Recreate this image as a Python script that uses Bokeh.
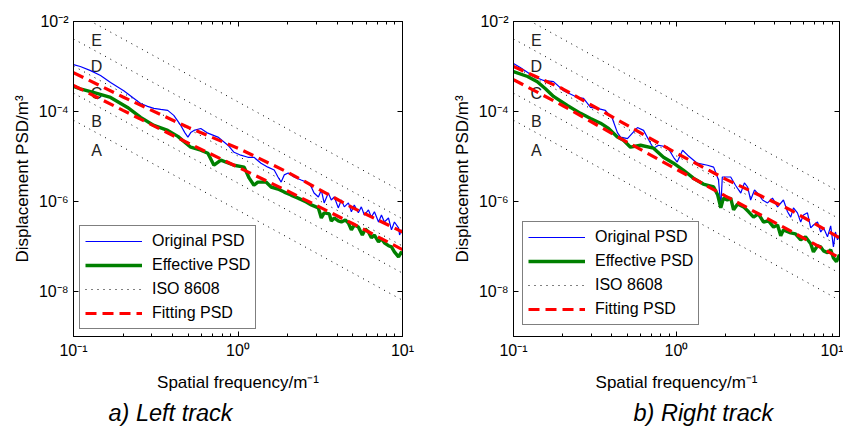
from bokeh.plotting import figure
from bokeh.layouts import row
from bokeh.models import (FixedTicker, LogAxis, CustomJSTickFormatter, Legend,
                          LegendItem, Title, Range1d)
from bokeh.core.properties import value
from bokeh.embed import file_html
from bokeh.resources import INLINE

FONT = "Liberation Sans"

# ---------------- data ----------------
x_major_ticks = [0.1, 1, 10]
x_minor_ticks = [0.2, 0.3, 0.4, 0.5, 0.6, 0.7, 0.8, 0.9, 2, 3, 4, 5, 6, 7, 8, 9]
y_major_ticks = [1e-8, 1e-6, 1e-4, 1e-2]

legend_labels = ["Original PSD", "Effective PSD", "ISO 8608", "Fitting PSD"]
panel_titles = ["a) Left track", "b) Right track"]

# ISO 8608 class lines (values at 0.1 and at 10 m^-1)
iso_freq = [0.1, 10]
iso_psd_at_start = [6.4e-5, 2.56e-4, 1.024e-3, 4.096e-3, 1.6384e-2]
iso_psd_at_end = [6.4e-9, 2.56e-8, 1.024e-7, 4.096e-7, 1.6384e-6]
iso_classes = ["A", "B", "C", "D", "E"]
iso_label_freq = 0.138
iso_label_psd = [1.38e-5, 6.0e-5, 2.51e-4, 9.95e-4, 3.74e-3]

# Left track
left_orig_freq = [0.100, 0.110, 0.127, 0.146, 0.168, 0.202, 0.229, 0.256, 0.282, 0.308, 0.339,
                  0.374, 0.407, 0.449, 0.475, 0.496, 0.516, 0.540, 0.594, 0.656, 0.755, 0.869,
                  0.946, 1.04, 1.15, 1.25, 1.38, 1.52, 1.66, 1.75, 1.83, 1.91, 2.02, 2.19, 2.42,
                  2.67, 2.79, 2.90, 3.08, 3.21, 3.34, 3.54, 3.69, 3.85, 4.07, 4.25, 4.43, 4.69,
                  4.89, 5.09, 5.39, 5.62, 5.86, 6.21, 6.47, 6.75, 7.15, 7.45, 7.76, 8.22, 8.57,
                  8.93, 9.46, 9.60, 9.86, 10.0]
left_orig_psd = [1.10e-3, 1.0e-3, 8.1e-4, 6.3e-4, 4.4e-4, 2.9e-4, 2.05e-4, 1.51e-4, 1.30e-4,
                 1.17e-4, 1.11e-4, 1.06e-4, 8.2e-5, 4.9e-5, 3.4e-5, 2.7e-5, 3.4e-5, 3.8e-5,
                 4.2e-5, 3.3e-5, 2.7e-5, 1.78e-5, 1.24e-5, 1.07e-5, 9.6e-6, 9.6e-6, 7.1e-6,
                 5.8e-6, 5.0e-6, 3.5e-6, 2.7e-6, 3.9e-6, 4.3e-6, 3.5e-6, 3.0e-6, 2.6e-6, 2.1e-6,
                 1.54e-6, 1.26e-6, 1.8e-6, 9.3e-7, 1.54e-6, 1.08e-6, 1.26e-6, 7.2e-7, 1.08e-6,
                 7.6e-7, 9.3e-7, 5.9e-7, 8.4e-7, 5.6e-7, 7.6e-7, 5.0e-7, 6.5e-7, 4.5e-7, 5.9e-7,
                 3.5e-7, 5.0e-7, 3.5e-7, 4.3e-7, 2.34e-7, 3.5e-7, 2.6e-7, 1.8e-7, 2.34e-7, 2.1e-7]
left_eff_freq = [0.100, 0.110, 0.132, 0.168, 0.213, 0.256, 0.308, 0.374, 0.431, 0.516, 0.594,
                 0.656, 0.714, 0.787, 0.946, 1.09, 1.17, 1.25, 1.32, 1.48, 1.59, 1.75, 1.91,
                 2.10, 2.32, 2.60, 2.79, 3.08, 3.21, 3.34, 3.59, 3.69, 3.85, 4.07, 4.25, 4.49,
                 4.69, 4.89, 5.09, 5.39, 5.70, 5.94, 6.21, 6.47, 6.75, 7.15, 7.45, 7.76, 8.22,
                 8.57, 8.93, 9.46, 9.86, 10.0]
left_eff_psd = [3.6e-4, 3.2e-4, 2.65e-4, 2.05e-4, 1.23e-4, 7.4e-5, 4.9e-5, 3.8e-5, 2.8e-5,
                1.61e-5, 1.38e-5, 1.18e-5, 6.4e-6, 8.3e-6, 6.4e-6, 5.8e-6, 3.3e-6, 2.3e-6,
                2.7e-6, 2.7e-6, 2.1e-6, 1.89e-6, 1.62e-6, 1.39e-6, 1.19e-6, 9.7e-7, 8.4e-7,
                7.2e-7, 4.3e-7, 5.6e-7, 5.3e-7, 3.7e-7, 4.3e-7, 3.7e-7, 3.5e-7, 3.9e-7, 3.3e-7,
                2.34e-7, 3.0e-7, 2.7e-7, 1.8e-7, 2.46e-7, 2.1e-7, 1.56e-7, 1.8e-7, 1.27e-7,
                1.48e-7, 1.21e-7, 1.04e-7, 9.8e-8, 7.6e-8, 5.9e-8, 7.6e-8, 6.6e-8]
fit_freq = [0.1, 0.2, 0.5, 1, 2, 5, 10]
left_fit_orig_psd = [7.3e-4, 2.1e-4, 4.4e-5, 1.53e-5, 4.5e-6, 7.2e-7, 2.1e-7]
left_fit_eff_psd = [3.8e-4, 1.06e-4, 1.97e-5, 5.8e-6, 1.71e-6, 3.2e-7, 8.5e-8]

# Right track
right_orig_freq = [0.100, 0.110, 0.133, 0.153, 0.176, 0.203, 0.247, 0.269, 0.297, 0.327, 0.366,
                   0.404, 0.434, 0.454, 0.500, 0.576, 0.628, 0.693, 0.723, 0.776, 0.881, 0.959,
                   1.01, 1.09, 1.17, 1.34, 1.55, 1.69, 1.81, 1.87, 1.91, 2.15, 2.30, 2.48, 2.61,
                   2.73, 2.85, 3.01, 3.14, 3.37, 3.62, 3.88, 4.17, 4.53, 4.80, 5.02, 5.22, 5.52,
                   5.78, 6.01, 6.36, 6.66, 6.92, 7.33, 7.67, 7.98, 8.44, 8.83, 9.18, 9.44, 9.72,
                   10.0]
right_orig_psd = [1.16e-3, 9.5e-4, 6.0e-4, 4.9e-4, 4.6e-4, 2.9e-4, 2.05e-4, 1.95e-4, 1.23e-4,
                  1.17e-4, 1.06e-4, 7.0e-5, 3.4e-5, 2.7e-5, 2.5e-5, 4.4e-5, 3.8e-5, 1.97e-5,
                  1.53e-5, 1.78e-5, 1.61e-5, 9.6e-6, 7.5e-6, 1.38e-5, 1.07e-5, 7.1e-6, 6.4e-6,
                  5.8e-6, 3.0e-6, 7.6e-7, 3.5e-6, 3.5e-6, 2.3e-6, 1.54e-6, 2.6e-6, 2.1e-6,
                  1.08e-6, 1.8e-6, 1.54e-6, 1.08e-6, 9.3e-7, 1.19e-6, 7.6e-7, 1.08e-6, 5.9e-7,
                  4.5e-7, 7.2e-7, 5.6e-7, 3.5e-7, 5.0e-7, 5.6e-7, 2.6e-7, 3.0e-7, 3.5e-7, 2.1e-7,
                  2.6e-7, 1.64e-7, 2.87e-7, 9.8e-8, 2.1e-7, 1.41e-7, 1.8e-7]
right_eff_freq = [0.100, 0.122, 0.140, 0.157, 0.176, 0.214, 0.258, 0.297, 0.342, 0.383, 0.434,
                  0.473, 0.522, 0.602, 0.723, 0.832, 0.959, 1.10, 1.27, 1.46, 1.69, 1.79, 1.87,
                  1.94, 2.05, 2.15, 2.24, 2.37, 2.58, 2.77, 2.97, 3.18, 3.42, 3.67, 3.94, 4.17,
                  4.36, 4.53, 5.02, 5.37, 5.78, 6.18, 6.66, 6.92, 7.33, 7.67, 7.98, 8.44, 8.83,
                  9.18, 9.58, 10.0]
right_eff_psd = [7.7e-4, 6.0e-4, 4.6e-4, 3.2e-4, 2.16e-4, 1.36e-4, 9.1e-5, 7.0e-5, 5.5e-5,
                 4.2e-5, 2.7e-5, 2.3e-5, 1.61e-5, 1.78e-5, 1.53e-5, 9.6e-6, 7.1e-6, 5.0e-6,
                 3.3e-6, 2.44e-6, 2.1e-6, 1.39e-6, 7.2e-7, 1.19e-6, 1.08e-6, 1.19e-6, 6.5e-7,
                 8.8e-7, 7.6e-7, 5.9e-7, 4.5e-7, 5.3e-7, 3.5e-7, 3.7e-7, 2.7e-7, 3.0e-7, 1.73e-7,
                 2.34e-7, 2.0e-7, 1.91e-7, 1.41e-7, 1.64e-7, 1.15e-7, 7.6e-8, 1.04e-7, 9.8e-8,
                 8.0e-8, 7.3e-8, 8.5e-8, 5.6e-8, 4.6e-8, 6.6e-8]
right_fit_orig_psd = [1.0e-3, 3.2e-4, 4.9e-5, 1.18e-5, 3.15e-6, 6.5e-7, 1.56e-7]
right_fit_eff_psd = [5.1e-4, 1.36e-4, 2.07e-5, 5.2e-6, 1.32e-6, 2.22e-7, 5.6e-8]

# ---------------- drawing ----------------
SUP_CODE = """
const m = {'-':'\u207b','0':'\u2070','1':'\u00b9','2':'\u00b2','3':'\u00b3','4':'\u2074',
           '5':'\u2075','6':'\u2076','7':'\u2077','8':'\u2078','9':'\u2079'};
const e = Math.round(Math.log10(tick));
return '10' + String(e).split('').map(c => m[c]).join('');
"""


def style_axis(ax):
    ax.axis_line_color = "black"
    ax.major_tick_line_color = "black"
    ax.minor_tick_line_color = "black"
    ax.major_tick_in = 5
    ax.major_tick_out = 0
    ax.minor_tick_in = 3
    ax.minor_tick_out = 0


def make_panel(width, border_left, border_right, title_text, title_offset, legend_loc,
               orig_f, orig_p, eff_f, eff_p, fit_o, fit_e):
    p = figure(width=width, height=429, x_axis_type="log", y_axis_type="log",
               x_range=Range1d(0.1, 10), y_range=Range1d(1e-9, 1e-2),
               output_backend="svg", toolbar_location=None,
               min_border_left=border_left, min_border_right=border_right,
               min_border_top=21, min_border_bottom=90)
    p.grid.visible = False
    p.outline_line_color = "black"
    p.background_fill_color = "white"
    p.border_fill_color = "white"

    xa = p.below[0]
    ya = p.left[0]
    xa.ticker = FixedTicker(ticks=x_major_ticks, minor_ticks=x_minor_ticks)
    ya.ticker = FixedTicker(ticks=y_major_ticks, minor_ticks=[])
    for ax in (xa, ya):
        style_axis(ax)
        ax.formatter = CustomJSTickFormatter(code=SUP_CODE)
        ax.major_label_text_font = FONT
        ax.major_label_text_font_size = "16px"
        ax.major_label_text_color = "black"
        ax.axis_label_text_font = FONT
        ax.axis_label_text_font_size = "17px"
        ax.axis_label_text_font_style = "normal"
        ax.axis_label_text_color = "black"
    xa.major_label_standoff = 5
    ya.major_label_standoff = 5
    xa.axis_label_standoff = 11
    ya.axis_label_standoff = 4
    xa.axis_label = "Spatial frequency/m\u207b\u00b9"
    ya.axis_label = "Displacement PSD/m\u00b3"

    for side, tick in (("above", FixedTicker(ticks=x_major_ticks, minor_ticks=x_minor_ticks)),
                       ("right", FixedTicker(ticks=y_major_ticks, minor_ticks=[]))):
        ax = LogAxis(ticker=tick, formatter=CustomJSTickFormatter(code="return ''"),
                     major_label_text_font_size="0px", major_label_standoff=0)
        style_axis(ax)
        p.add_layout(ax, side)

    iso_r = p.multi_line(xs=[iso_freq] * len(iso_psd_at_start),
                         ys=[[a, b] for a, b in zip(iso_psd_at_start, iso_psd_at_end)],
                         line_color="black", line_width=1, line_dash="1 5")
    p.text(x=[iso_label_freq] * len(iso_classes), y=iso_label_psd, text=iso_classes,
           text_align="center", text_baseline="middle", text_font=value(FONT),
           text_font_size="16px", text_color="#222222")

    orig_r = p.line(orig_f, orig_p, line_color="#0000FF", line_width=1.2)
    eff_r = p.line(eff_f, eff_p, line_color="#008000", line_width=3.4)
    fit_r1 = p.line(fit_freq, fit_o, line_color="#FF0000", line_width=3.2, line_dash="11 6")
    p.line(fit_freq, fit_e, line_color="#FF0000", line_width=3.2, line_dash="11 6")

    items = [LegendItem(label=value(legend_labels[0]), renderers=[orig_r]),
             LegendItem(label=value(legend_labels[1]), renderers=[eff_r]),
             LegendItem(label=value(legend_labels[2]), renderers=[iso_r]),
             LegendItem(label=value(legend_labels[3]), renderers=[fit_r1])]
    legend = Legend(items=items, location=legend_loc, margin=0, padding=5, spacing=4,
                    glyph_width=57, glyph_height=20, label_height=20, label_standoff=10,
                    label_text_font=FONT, label_text_font_size="16px",
                    label_text_color="black", border_line_color="black",
                    border_line_width=1, background_fill_color="white",
                    background_fill_alpha=1.0)
    p.add_layout(legend)

    t = Title(text=title_text, align="left", offset=title_offset, text_font=FONT,
              text_font_size="23.5px", text_font_style="italic", text_color="black",
              standoff=7)
    p.add_layout(t, "below")
    return p


p1 = make_panel(421, 73, 19, panel_titles[0], 35, (6, 7),
                left_orig_freq, left_orig_psd, left_eff_freq, left_eff_psd,
                left_fit_orig_psd, left_fit_eff_psd)
p2 = make_panel(422, 92, 4, panel_titles[1], 120, (9, 11),
                right_orig_freq, right_orig_psd, right_eff_freq, right_eff_psd,
                right_fit_orig_psd, right_fit_eff_psd)

layout = row(p1, p2)
open("out.html", "w").write(file_html(layout, INLINE))
